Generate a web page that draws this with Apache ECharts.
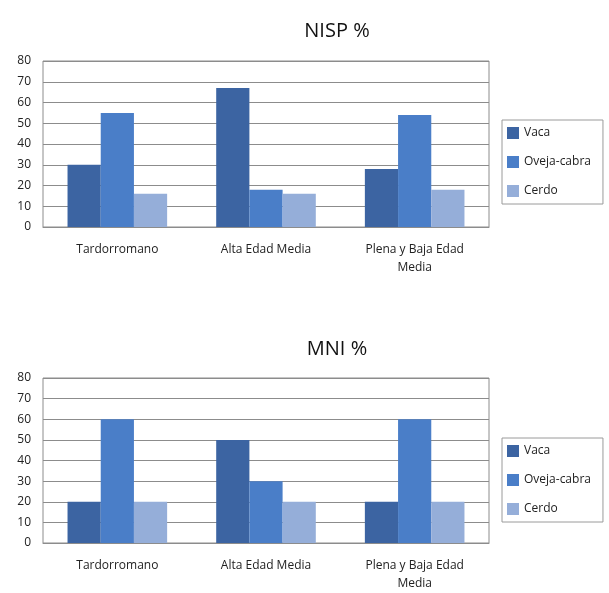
<!DOCTYPE html>
<html><head><meta charset="utf-8">
<script src="https://cdn.jsdelivr.net/npm/echarts@6/dist/echarts.min.js"></script>
<style>html,body{margin:0;padding:0;background:#fff}#c{width:609px;height:593px}</style>
</head><body><div id="c"></div>
<script>
const categories = ['Tardorromano', 'Alta Edad Media', 'Plena y Baja Edad\nMedia'];
const seriesNames = ['Vaca', 'Oveja-cabra', 'Cerdo'];
const nispVaca = [30, 67, 28];
const nispOveja = [55, 18, 54];
const nispCerdo = [16, 16, 18];
const mniVaca = [20, 50, 20];
const mniOveja = [60, 30, 60];
const mniCerdo = [20, 20, 20];
const yTicks = [0, 80, 10];
const titles = ['NISP %', 'MNI %'];

const colors = ['#3c64a2', '#4a7ec8', '#95aed9'];
const font = 'Open Sans';
const grids = [
  {left: 43, width: 446, top: 61, height: 166, show: true, borderColor: '#8c8c8c', borderWidth: 1, backgroundColor: 'transparent'},
  {left: 43, width: 446, top: 378, height: 168, show: true, borderColor: '#8c8c8c', borderWidth: 1, backgroundColor: 'transparent'}
];
function xAxis(i){return {type:'category', gridIndex:i, data:categories, axisTick:{show:false},
  axisLine:{lineStyle:{color:'#8c8c8c'}}, axisLabel:{color:'#222', fontFamily:font, fontSize:12, margin:14, lineHeight:18, interval:0}};}
function yAxis(i){return {type:'value', gridIndex:i, min:yTicks[0], max:yTicks[1], interval:yTicks[2],
  axisLine:{show:false}, axisTick:{show:false}, splitLine:{lineStyle:{color:'#8c8c8c', width:1}},
  axisLabel:{color:'#222', fontFamily:font, fontSize:12, margin:12}};}
const data = [[nispVaca, nispOveja, nispCerdo],[mniVaca, mniOveja, mniCerdo]];
const series = [];
for (let g=0; g<2; g++) for (let s=0; s<3; s++) series.push({
  type:'bar', name:seriesNames[s], xAxisIndex:g, yAxisIndex:g, data:data[g][s],
  itemStyle:{color:colors[s]}, barGap:'0%', barCategoryGap:'33%', animation:false});
function legend(top){return {orient:'vertical', left:502, top:top, data:seriesNames,
  borderColor:'#9a9a9a', borderWidth:1, padding:[7,12,7,5], itemGap:17, itemWidth:12, itemHeight:12, icon:'rect',
  textStyle:{fontFamily:font, fontSize:12, color:'#222'}, selectedMode:false};}
const chart = echarts.init(document.getElementById('c'));
chart.setOption({
  animation:false,
  color: colors,
  title: [
    {text:titles[0], left:332, top:16, textAlign:'center', textStyle:{fontFamily:font, fontSize:20, fontWeight:'normal', color:'#111'}},
    {text:titles[1], left:332, top:334, textAlign:'center', textStyle:{fontFamily:font, fontSize:20, fontWeight:'normal', color:'#111'}}
  ],
  legend:[legend(120), legend(438)],
  grid: grids,
  xAxis:[xAxis(0), xAxis(1)],
  yAxis:[yAxis(0), yAxis(1)],
  series: series
});
</script></body></html>
